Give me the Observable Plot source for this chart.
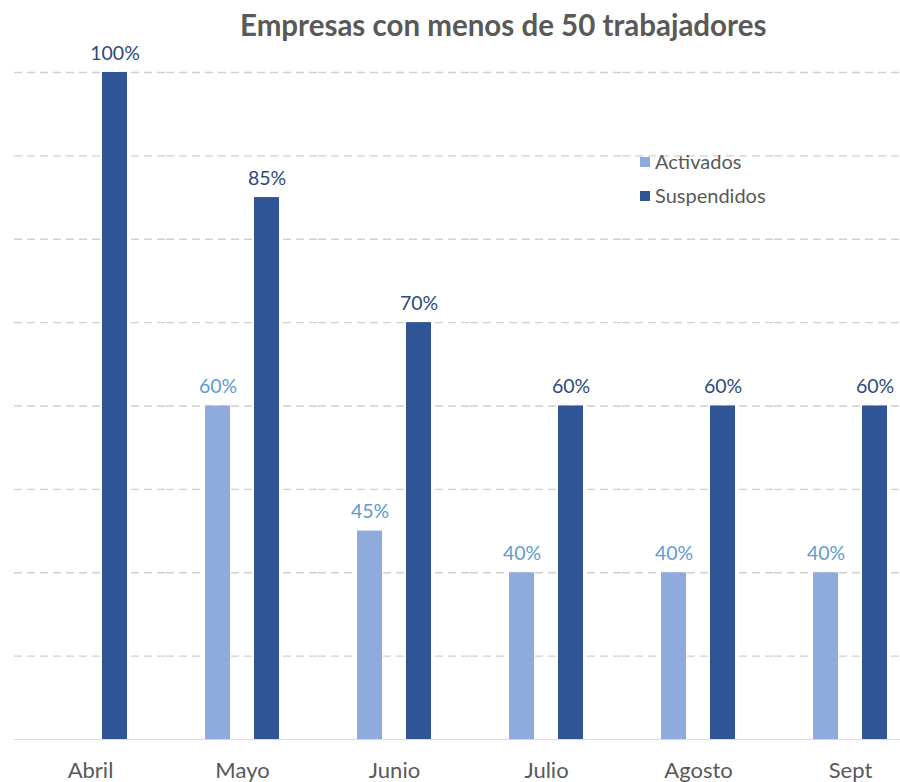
<!DOCTYPE html>
<html>
<head>
<meta charset="utf-8">
<script src="https://cdn.jsdelivr.net/npm/d3@7"></script>
<script src="https://cdn.jsdelivr.net/npm/@observablehq/plot@0.6"></script>
<style>
  html, body { margin: 0; padding: 0; background: #fff; }
  #wrap { position: relative; width: 900px; height: 782px; overflow: hidden; font-family: Lato, sans-serif; }
  #title { position: absolute; left: 240px; top: 7px; white-space: nowrap; font-size: 29.5px; font-weight: 700; color: #595959; }
  #legend { position: absolute; left: 640px; top: 144px; font-size: 20px; color: #595959; line-height: 34px; }
  #legend .sw { display: inline-block; width: 10px; height: 10px; margin-right: 5px; vertical-align: middle; position: relative; top: -2px; }
  #chart svg { position: absolute; left: 0; top: 0; max-width: none !important; }
</style>
</head>
<body>
<div id="wrap">
  <div id="chart"></div>
  <div id="title">Empresas con menos de 50 trabajadores</div>
  <div id="legend"></div>
</div>
<script>
const months = ["Abril", "Mayo", "Junio", "Julio", "Agosto", "Sept"];
const series = ["Activados", "Suspendidos"];
const activados = [null, 60, 45, 40, 40, 40];
const suspendidos = [100, 85, 70, 60, 60, 60];
const yMin = 20;
const yMax = 100;
const gridTicks = [30, 40, 50, 60, 70, 80, 90, 100];

const colors = { Activados: "#8FAADC", Suspendidos: "#2F5597" };
const labelColors = { Activados: "#5B9BD5", Suspendidos: "#2A4A7C" };

const rows = [];
months.forEach((m, i) => {
  if (activados[i] != null) rows.push({ month: m, serie: "Activados", value: activados[i] });
  if (suspendidos[i] != null) rows.push({ month: m, serie: "Suspendidos", value: suspendidos[i] });
});

const plot = Plot.plot({
  width: 928,
  height: 782,
  marginLeft: 12,
  marginRight: 0,
  marginTop: 72,
  marginBottom: 43,
  style: { fontFamily: "Lato, sans-serif", background: "transparent", maxWidth: "none" },
  fx: { domain: months, padding: 0, label: null },
  x: { domain: series, paddingInner: 0.5, paddingOuter: 0.777, axis: null },
  y: { domain: [yMin, yMax], axis: null },
  color: { domain: series, range: series.map(s => colors[s]) },
  marks: [
    Plot.ruleY(gridTicks, { stroke: "#D0D0D0", strokeWidth: 1.3, strokeDasharray: "8,5" }),
    Plot.ruleY([yMin], { stroke: "#D9D9D9", strokeWidth: 1.2 }),
    Plot.barY(rows, { fx: "month", x: "serie", y1: yMin, y2: "value", fill: "serie" }),
    ...series.map(s => Plot.text(rows.filter(d => d.serie === s), {
      fx: "month", x: "serie", y: "value", text: d => d.value + "%",
      fill: labelColors[s], fontSize: 19.5, lineAnchor: "bottom", dy: -13
    })),
    Plot.axisFx({ anchor: "bottom", tickSize: 0, tickPadding: 23, fontSize: 22, fill: "#595959", label: null })
  ]
});
document.getElementById("chart").appendChild(plot);

const legend = document.getElementById("legend");
series.forEach(s => {
  const row = document.createElement("div");
  row.innerHTML = `<span class="sw" style="background:${colors[s]}"></span>${s}`;
  legend.appendChild(row);
});
</script>
</body>
</html>
